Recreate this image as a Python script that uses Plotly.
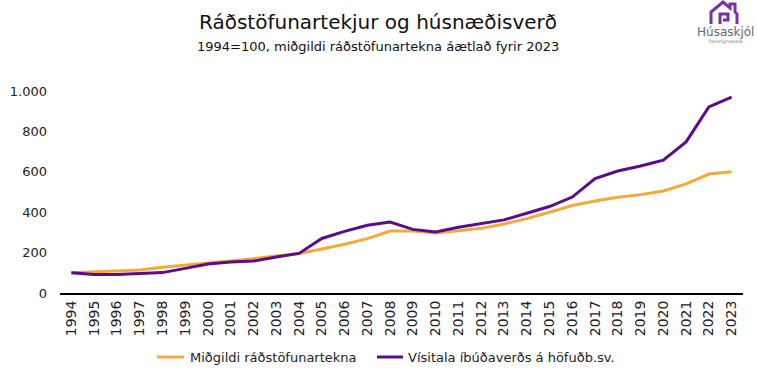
import plotly.graph_objects as go

years = [str(y) for y in range(1994, 2024)]
income = [100, 104, 107, 114, 127, 137, 150, 158, 170, 183, 196, 218, 241, 269, 307,
          307, 297, 308, 320, 342, 368, 400, 433, 455, 474, 487, 505, 540, 589, 600]
housing = [100, 92, 92, 97, 101, 122, 143, 153, 158, 178, 196, 270, 305, 335, 351,
           315, 302, 325, 345, 362, 395, 428, 475, 567, 604, 629, 658, 748, 921, 970]
name_income = "Miðgildi ráðstöfunartekna"
name_housing = "Vísitala íbúðaverðs á höfuðb.sv."

ORANGE = "#F5A83C"
PURPLE = "#5B0D87"
FONT = "DejaVu Sans"

fig = go.Figure()
fig.add_trace(go.Scatter(x=years, y=income, mode="lines", name=name_income,
                         line=dict(color=ORANGE, width=3), showlegend=False))
fig.add_trace(go.Scatter(x=years, y=housing, mode="lines", name=name_housing,
                         line=dict(color=PURPLE, width=3), showlegend=False))

L, R, T, B = 60, 14, 91, 86
W, H = 757, 379
pw, ph = W - L - R, H - T - B

def px(x):
    return (x - L) / pw

def py(y):
    return (H - B - y) / ph

fig.update_layout(
    width=W, height=H,
    margin=dict(l=L, r=R, t=T, b=B, autoexpand=False),
    paper_bgcolor="white", plot_bgcolor="white",
    font=dict(family=FONT, color="#222", size=13),
    separators=",.",
    showlegend=False,
    xaxis=dict(type="category", range=[-0.5, 29.5], tickangle=-90, showgrid=False,
               showline=True, linecolor="black", linewidth=2, ticks="",
               tickfont=dict(size=14, color="#222"), fixedrange=True, automargin=False),
    yaxis=dict(range=[0, 1000], tickvals=[0, 200, 400, 600, 800, 1000],
               separatethousands=True, showgrid=False, zeroline=False, showline=False,
               ticks="", ticklabelstandoff=12, automargin=False,
               tickfont=dict(size=13, color="#222"), fixedrange=True),
)

fig.add_annotation(text="Ráðstöfunartekjur og húsnæðisverð", xref="paper", yref="paper",
                   x=px(378), y=py(22), xanchor="center", yanchor="middle", showarrow=False,
                   font=dict(size=20, color="#111", family=FONT))
fig.add_annotation(text="1994=100, miðgildi ráðstöfunartekna áætlað fyrir 2023", xref="paper", yref="paper",
                   x=px(378), y=py(46), xanchor="center", yanchor="middle", showarrow=False,
                   font=dict(size=13, color="#111", family=FONT))

# Custom legend
legend_items = [(name_income, ORANGE, 157, 184, 188), (name_housing, PURPLE, 377, 403, 406)]
for name, col, x0, x1, tx in legend_items:
    fig.add_shape(type="line", xref="paper", yref="paper", x0=px(x0), x1=px(x1),
                  y0=py(357), y1=py(357), line=dict(color=col, width=3))
    fig.add_annotation(text=name, xref="paper", yref="paper", x=px(tx), y=py(357),
                       xanchor="left", yanchor="middle", showarrow=False,
                       font=dict(size=13, color="#222", family=FONT))

# Logo
pts = [(711, 24), (711, 12), (723, 2), (730, 8), (730, 4), (735, 4), (735, 12), (737, 14), (737, 24)]
path = "M " + " L ".join(f"{px(a)},{py(b)}" for a, b in pts)
fig.add_shape(type="path", path=path, xref="paper", yref="paper",
              line=dict(color="#7B2FA8", width=3))
door = [(720, 24), (720, 14), (728, 14), (728, 20), (723, 20)]
path2 = "M " + " L ".join(f"{px(a)},{py(b)}" for a, b in door)
fig.add_shape(type="path", path=path2, xref="paper", yref="paper",
              line=dict(color="#7B2FA8", width=3))
fig.add_annotation(text="Húsaskjól", xref="paper", yref="paper", x=px(725), y=py(32),
                   xanchor="center", yanchor="middle", showarrow=False,
                   font=dict(size=12, color="#666", family=FONT))
fig.add_annotation(text="fasteignasala", xref="paper", yref="paper", x=px(725), y=py(41),
                   xanchor="center", yanchor="middle", showarrow=False,
                   font=dict(size=5, color="#888", family=FONT))

fig.write_html("out.html")
